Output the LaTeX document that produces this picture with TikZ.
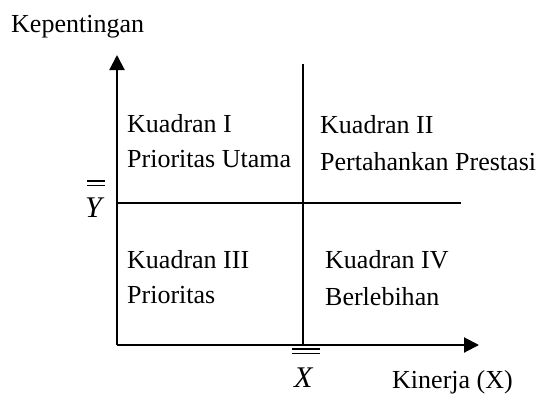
\documentclass[tikz,border=0pt]{standalone}
\usepackage{fontspec}
\setmainfont{Liberation Serif}
\usetikzlibrary{arrows.meta}
\begin{document}
\begin{tikzpicture}[x=1pt,y=1pt,
  lbl/.style={anchor=base west,inner sep=0pt,font=\fontsize{26}{31}\selectfont},
  mlbl/.style={anchor=base west,inner sep=0pt,font=\fontsize{30}{36}\selectfont\itshape},
  axis/.style={line width=2pt,-{Triangle[length=15pt,width=15pt]}},
  divider/.style={line width=2pt},
  bar/.style={line width=1.4pt}]
\useasboundingbox (0,0) rectangle (540,-397);
% coordinates
\coordinate (O) at (117,-345);
\coordinate (Ytip) at (117,-55);
\coordinate (Xtip) at (479,-345);
\coordinate (Vtop) at (303,-64);
\coordinate (Vbot) at (303,-345);
\coordinate (Hl) at (117,-203);
\coordinate (Hr) at (461,-203);
% axes and dividers
\draw[axis] (O) -- (Ytip);
\draw[axis] (O) -- (Xtip);
\draw[divider] (Vtop) -- (Vbot);
\draw[divider] (Hl) -- (Hr);
% labels
\node[lbl] (kep) at (11,-32) {Kepentingan};
\node[lbl] (k1a) at (127,-132) {Kuadran I};
\node[lbl] (k1b) at (127,-167) {Prioritas Utama};
\node[lbl] (k2a) at (320,-133) {Kuadran II};
\node[lbl] (k2b) at (320,-170) {Pertahankan Prestasi};
\node[lbl] (k3a) at (127,-268) {Kuadran III};
\node[lbl] (k3b) at (127,-303) {Prioritas};
\node[lbl] (k4a) at (325,-268) {Kuadran IV};
\node[lbl] (k4b) at (325,-305) {Berlebihan};
\node[mlbl] (ylab) at (85,-217) {Y};
\node[mlbl] (xlab) at (294,-387) {X};
\node[lbl] (kin) at (392,-388) {Kinerja (X)};
% double bars
\coordinate (yb1l) at (87,-181); \coordinate (yb1r) at (105,-181);
\coordinate (yb2l) at (87,-185.5); \coordinate (yb2r) at (105,-185.5);
\draw[bar] (yb1l) -- (yb1r);
\draw[bar] (yb2l) -- (yb2r);
\coordinate (xb1l) at (292,-349); \coordinate (xb1r) at (320,-349);
\coordinate (xb2l) at (292,-353.5); \coordinate (xb2r) at (320,-353.5);
\draw[bar] (xb1l) -- (xb1r);
\draw[bar] (xb2l) -- (xb2r);
\end{tikzpicture}
\end{document}
